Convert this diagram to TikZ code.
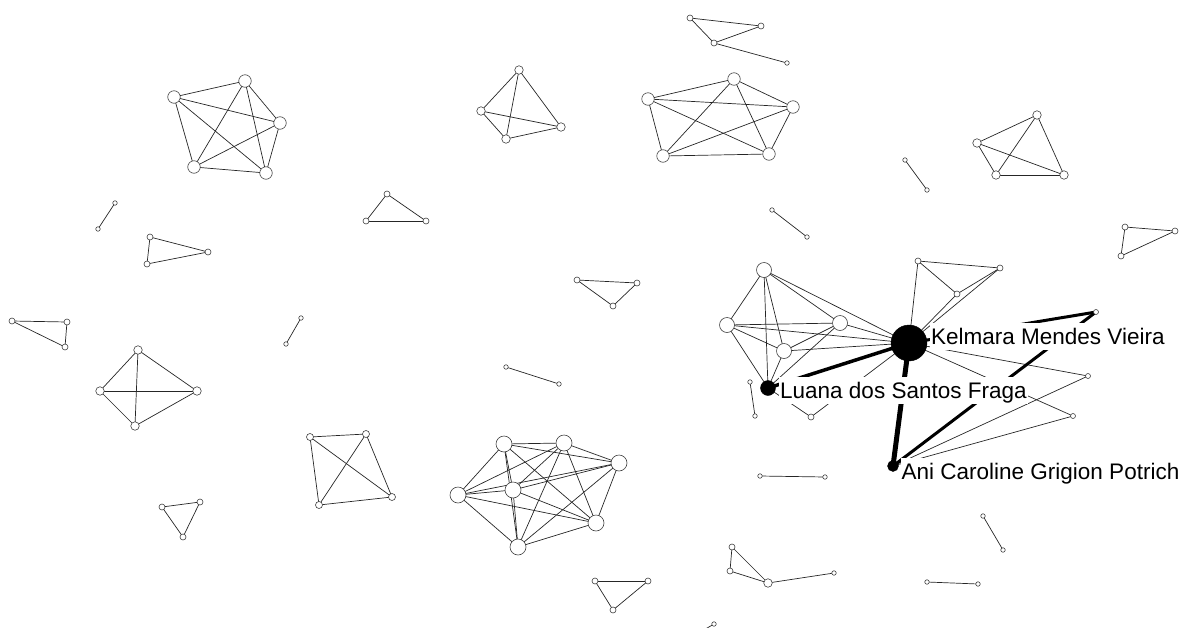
\documentclass[tikz,border=0pt]{standalone}
\usepackage{fontspec}
\setmainfont{Liberation Sans}
\pgfdeclarelayer{edges}
\pgfsetlayers{edges,main}
\tikzset{
  vtx/.style={circle,draw=black!75,fill=white,inner sep=0pt,line width=0.6pt},
  vhuge/.style={vtx,minimum size=16pt},
  vhub/.style={vtx,minimum size=15pt},
  vbig/.style={vtx,minimum size=12.5pt},
  vmid/.style={vtx,minimum size=8.5pt},
  vsml/.style={vtx,minimum size=6pt},
  vtny/.style={vtx,minimum size=4.5pt},
  vblk/.style={circle,fill=black,draw=black,inner sep=0pt},
  lnk/.style={draw=black!85,line width=0.7pt},
  lbl/.style={fill=white,inner sep=1pt,text height=20.4pt,text depth=4.8pt,anchor=base west,font=\fontsize{22.5}{27}\selectfont}
}
\begin{document}
\begin{tikzpicture}[x=1pt,y=-1pt,line join=round,line cap=round]
  \useasboundingbox (0,0) rectangle (1184,627);
  \clip (0,0) rectangle (1184,627);

  % cliques, upper half
  \node[vbig] (ka1) at (174,97) {};
  \node[vbig] (ka2) at (245,81) {};
  \node[vbig] (ka3) at (280,123) {};
  \node[vbig] (ka4) at (194,167) {};
  \node[vbig] (ka5) at (266,173) {};

  \node[vbig] (kb1) at (648,99) {};
  \node[vbig] (kb2) at (734,79) {};
  \node[vbig] (kb3) at (793,107) {};
  \node[vbig] (kb4) at (663,156) {};
  \node[vbig] (kb5) at (769,154) {};

  \node[vmid] (kc1) at (519,70) {};
  \node[vmid] (kc2) at (481,111) {};
  \node[vmid] (kc3) at (506,139) {};
  \node[vmid] (kc4) at (561,127) {};

  \node[vmid] (kd1) at (1037,115) {};
  \node[vmid] (kd2) at (977,143) {};
  \node[vmid] (kd3) at (996,175) {};
  \node[vmid] (kd4) at (1064,175) {};

  % cliques, lower half
  \node[vmid] (ke1) at (138,350) {};
  \node[vmid] (ke2) at (100,391) {};
  \node[vmid] (ke3) at (197,391) {};
  \node[vmid] (ke4) at (135,426) {};

  \node[vsml,minimum size=7pt] (kf1) at (310,437) {};
  \node[vsml,minimum size=7pt] (kf2) at (366,434) {};
  \node[vsml,minimum size=7pt] (kf3) at (392,497) {};
  \node[vsml,minimum size=7pt] (kf4) at (319,505) {};

  \node[vhuge] (kg1) at (504,444) {};
  \node[vhuge] (kg2) at (564,443) {};
  \node[vhuge] (kg3) at (619,463) {};
  \node[vhuge] (kg4) at (458,495) {};
  \node[vhuge] (kg5) at (513,490) {};
  \node[vhuge] (kg6) at (596,523) {};
  \node[vhuge] (kg7) at (518,547) {};

  % triangles
  \node[vsml] (ta1) at (150,237) {};
  \node[vsml] (ta2) at (208,252) {};
  \node[vsml] (ta3) at (147,264) {};
  \node[vsml] (tb1) at (12,321) {};
  \node[vsml] (tb2) at (67,322) {};
  \node[vsml] (tb3) at (65,347) {};
  \node[vsml] (tc1) at (387,194) {};
  \node[vsml] (tc2) at (366,221) {};
  \node[vsml] (tc3) at (426,221) {};
  \node[vsml] (td1) at (577,280) {};
  \node[vsml] (td2) at (637,283) {};
  \node[vsml] (td3) at (613,306) {};
  \node[vsml] (te1) at (1125,227) {};
  \node[vsml] (te2) at (1175,231) {};
  \node[vsml] (te3) at (1121,256) {};
  \node[vsml] (tf1) at (162,507) {};
  \node[vsml] (tf2) at (200,502) {};
  \node[vsml] (tf3) at (183,537) {};
  \node[vsml] (tg1) at (595,581) {};
  \node[vsml] (tg2) at (648,581) {};
  \node[vsml] (tg3) at (613,610) {};

  % pairs
  \node[vtny] (pa1) at (115,203) {};
  \node[vtny] (pa2) at (98,229) {};
  \node[vtny] (pb1) at (301,318) {};
  \node[vtny] (pb2) at (286,344) {};
  \node[vtny] (pc1) at (506,367) {};
  \node[vtny] (pc2) at (559,384) {};
  \node[vtny] (pd1) at (905,160) {};
  \node[vtny] (pd2) at (927,190) {};
  \node[vtny] (pe1) at (772,210) {};
  \node[vtny] (pe2) at (807,237) {};
  \node[vtny] (pf1) at (760,476) {};
  \node[vtny] (pf2) at (825,477) {};
  \node[vtny] (pg1) at (927,582) {};
  \node[vtny] (pg2) at (978,584) {};
  \node[vtny] (ph1) at (983,516) {};
  \node[vtny] (ph2) at (1003,550) {};
  \node[vtny] (pi1) at (750,382) {};
  \node[vtny] (pi2) at (755,416) {};
  \node[vtny] (pj1) at (714,624) {};
  \coordinate (pj2) at (702,631);

  % chains
  \node[vsml] (qa) at (690,18) {};
  \node[vsml] (qb) at (761,26) {};
  \node[vsml] (qc) at (714,43) {};
  \node[vtny] (qd) at (787,63) {};
  \node[vsml] (qe) at (732,547) {};
  \node[vsml] (qf) at (730,571) {};
  \node[vmid] (qg) at (768,583) {};
  \node[vtny] (qh) at (834,573) {};

  % hub
  \node[vhub] (hb1) at (764,270) {};
  \node[vhub] (hb2) at (727,325) {};
  \node[vhub] (hb3) at (840,323) {};
  \node[vhub] (hb4) at (784,351) {};
  \node[vblk,minimum size=15pt] (hb5) at (768,388) {};
  \node[vblk,minimum size=36pt] (hb6) at (909,343) {};
  \node[vblk,minimum size=11pt] (ani) at (893,466) {};
  \node[vsml] (n1) at (918,261) {};
  \node[vsml] (n2) at (957,294) {};
  \node[vsml] (n3) at (1000,268) {};
  \node[vtny,minimum size=5pt] (n4) at (1096,312) {};
  \node[vtny,minimum size=5pt] (n5) at (1088,376) {};
  \node[vtny,minimum size=5pt] (n6) at (1073,416) {};
  \node[vsml] (n7) at (811,417) {};

  % edges
  \begin{pgfonlayer}{edges}
  \foreach \g/\m in {ka/5,kb/5,kc/4,kd/4,ke/4,kf/4,kg/7,hb/6,ta/3,tb/3,tc/3,td/3,te/3,tf/3,tg/3,pa/2,pb/2,pc/2,pd/2,pe/2,pf/2,pg/2,ph/2,pi/2,pj/2}{
    \foreach \i in {1,...,\m}{
      \foreach \j in {1,...,\m}{
        \ifnum\i<\j \draw[lnk] (\g\i.center)--(\g\j.center); \fi
      }
    }
  }
  \foreach \a/\b in {qa/qb,qa/qc,qc/qb,qc/qd,qe/qf,qe/qg,qf/qg,qg/qh,
                     hb6/n1,hb6/n2,hb6/n3,n1/n2,n1/n3,n2/n3,
                     hb6/n5,hb6/n6,ani/n5,ani/n6,hb6/n7,hb5/n7}
    \draw[lnk] (\a.center)--(\b.center);
  \draw[line width=5pt] (hb6.center)--(ani.center);
  \draw[line width=3.5pt] (hb6.center)--(hb5.center);
  \draw[line width=3pt] (hb6.center)--(n4.center);
  \draw[line width=3pt] (ani.center)--(n4.center);
  \end{pgfonlayer}

  % labels
  \node[lbl] (kellbl) at (930,344) {Kelmara Mendes Vieira};
  \node[lbl] (lualbl) at (779,398) {Luana dos Santos Fraga};
  \node[lbl] (anilbl) at (900.5,479) {Ani Caroline Grigion Potrich};
\end{tikzpicture}
\end{document}
